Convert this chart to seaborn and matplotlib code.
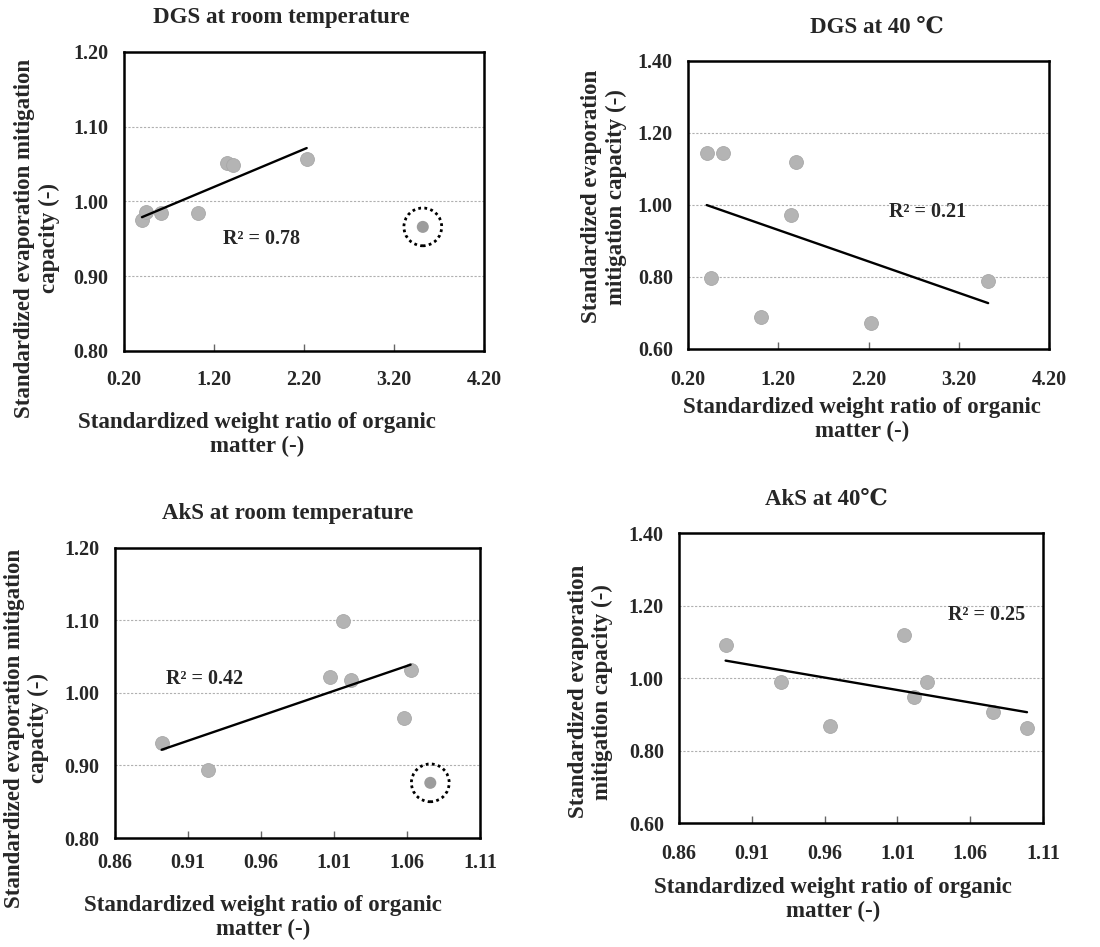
import numpy as np
import pandas as pd
import matplotlib
matplotlib.use("Agg")
import matplotlib.pyplot as plt
import seaborn as sns

sns.set_theme(style="white")
plt.rcParams['font.family'] = ['Liberation Serif', 'DejaVu Serif']
plt.rcParams['font.weight'] = 'bold'
plt.rcParams['mathtext.default'] = 'regular'

# ---- data ----
dgs_rt_x = [0.40, 0.45, 0.61, 1.02, 1.35, 1.41, 2.23]
dgs_rt_y = [0.975, 0.986, 0.985, 0.985, 1.052, 1.049, 1.057]
dgs_rt_outlier_x = [3.52]
dgs_rt_outlier_y = [0.966]

dgs_40_x = [0.407, 0.591, 1.396, 1.337, 0.455, 1.012, 2.222, 3.525]
dgs_40_y = [1.144, 1.144, 1.119, 0.972, 0.797, 0.688, 0.672, 0.788]

aks_rt_x = [0.892, 0.924, 1.007, 1.016, 1.0214, 1.0625, 1.058]
aks_rt_y = [0.931, 0.893, 1.0216, 1.099, 1.017, 1.031, 0.965]
aks_rt_outlier_x = [1.076]
aks_rt_outlier_y = [0.876]

aks_40_x = [0.892, 0.930, 0.964, 1.0148, 1.0214, 1.0303, 1.0757, 1.099]
aks_40_y = [1.091, 0.989, 0.868, 1.1195, 0.9467, 0.990, 0.906, 0.862]

titles = ["DGS at room temperature", "DGS at 40 \u2103", "AkS at room temperature", "AkS at 40\u2103"]
r2_labels = ["R\u00b2 = 0.78", "R\u00b2 = 0.21", "R\u00b2 = 0.42", "R\u00b2 = 0.25"]
xlabel = "Standardized weight ratio of organic\nmatter (-)"
ylabel_a = "Standardized evaporation mitigation\ncapacity (-)"
ylabel_b = "Standardized evaporation\nmitigation capacity (-)"

dgs_xticks = [0.20, 1.20, 2.20, 3.20, 4.20]
aks_xticks = [0.86, 0.91, 0.96, 1.01, 1.06, 1.11]
rt_yticks = [0.80, 0.90, 1.00, 1.10, 1.20]
h_yticks = [0.60, 0.80, 1.00, 1.20, 1.40]

fig = plt.figure(figsize=(11, 9.47), dpi=100)

panels = [
    dict(rect=[0.1127, 0.6294, 0.3273, 0.3157], x=dgs_rt_x, y=dgs_rt_y, ox=dgs_rt_outlier_x, oy=dgs_rt_outlier_y,
         xt=dgs_xticks, yt=rt_yticks, title=titles[0], tpos=0.436, r2=r2_labels[0], r2pos=(1.30, 0.95),
         ylab=ylabel_a, ylc=(-0.178, 0.378), xlc=(0.37, -0.204), xpad=14),
    dict(rect=[0.6255, 0.6315, 0.3282, 0.3044], x=dgs_40_x, y=dgs_40_y, ox=None, oy=None,
         xt=dgs_xticks, yt=h_yticks, title=titles[1], tpos=0.523, r2=r2_labels[1], r2pos=(2.43, 0.98),
         ylab=ylabel_b, ylc=(-0.17, 0.528), xlc=(0.481, -0.165), xpad=15),
    dict(rect=[0.1045, 0.1151, 0.3318, 0.3066], x=aks_rt_x, y=aks_rt_y, ox=aks_rt_outlier_x, oy=aks_rt_outlier_y,
         xt=aks_xticks, yt=rt_yticks, title=titles[2], tpos=0.472, r2=r2_labels[2], r2pos=(0.8947, 1.019),
         ylab=ylabel_a, ylc=(-0.18, 0.379), xlc=(0.406, -0.196), xpad=11),
    dict(rect=[0.6173, 0.1309, 0.3309, 0.3062], x=aks_40_x, y=aks_40_y, ox=None, oy=None,
         xt=aks_xticks, yt=h_yticks, title=titles[3], tpos=0.404, r2=r2_labels[3], r2pos=(1.045, 1.175),
         ylab=ylabel_b, ylc=(-0.181, 0.453), xlc=(0.423, -0.185), xpad=15),
]

tick_fs = 14.5
label_fs = 16.5
title_fs = 16.5
r2_fs = 14.5

for p in panels:
    ax = fig.add_axes(p["rect"])
    df = pd.DataFrame({"x": p["x"], "y": p["y"]})
    sns.regplot(data=df, x="x", y="y", ax=ax, ci=None, truncate=True,
                scatter_kws=dict(s=100, color="#b4b4b4", edgecolor="#a8a8a8", linewidths=0.6, alpha=1, zorder=3),
                line_kws=dict(color="black", linewidth=1.7, zorder=4))
    if p["ox"] is not None:
        sns.scatterplot(x=p["ox"], y=p["oy"], ax=ax, s=75, color="#9c9c9c", edgecolor="none", zorder=3)
        ax.scatter(p["ox"], p["oy"], s=740, facecolors="none", edgecolors="black",
                   linestyles=(0, (1, 1.2)), linewidths=2.0, zorder=3)
    ax.set_xlim(p["xt"][0], p["xt"][-1])
    ax.set_ylim(p["yt"][0], p["yt"][-1])
    ax.set_xticks(p["xt"])
    ax.set_yticks(p["yt"])
    ax.set_xticklabels([f"{v:.2f}" for v in p["xt"]], fontsize=tick_fs, fontweight="bold")
    ax.set_yticklabels([f"{v:.2f}" for v in p["yt"]], fontsize=tick_fs, fontweight="bold")
    ax.tick_params(axis="x", direction="in", length=5, width=1, color="#666666", pad=p["xpad"], bottom=True)
    ax.tick_params(axis="y", length=0, pad=11, left=False)
    for yv in p["yt"][1:-1]:
        ax.axhline(yv, color="#b0b0b0", linestyle=(0, (2, 1.5)), linewidth=0.8, zorder=1)
    for s in ax.spines.values():
        s.set_color("black")
        s.set_linewidth(1.8)
    ax.set_xlabel(xlabel, fontsize=label_fs, fontweight="bold", linespacing=1.2)
    ax.xaxis.set_label_coords(*p["xlc"])
    ax.xaxis.label.set_va("top")
    ax.set_ylabel(p["ylab"], fontsize=label_fs, fontweight="bold", linespacing=1.2)
    ax.yaxis.set_label_coords(*p["ylc"])
    ax.text(p["tpos"], 1.0 + 34 / (p["rect"][3] * 947), p["title"], transform=ax.transAxes,
            ha="center", va="center", fontsize=title_fs, fontweight="bold")
    ax.text(p["r2pos"][0], p["r2pos"][1], p["r2"], ha="left", va="center",
            fontsize=r2_fs, fontweight="bold", zorder=5)
    ax.grid(False)

fig.savefig("out.png", dpi=100, facecolor="white")
